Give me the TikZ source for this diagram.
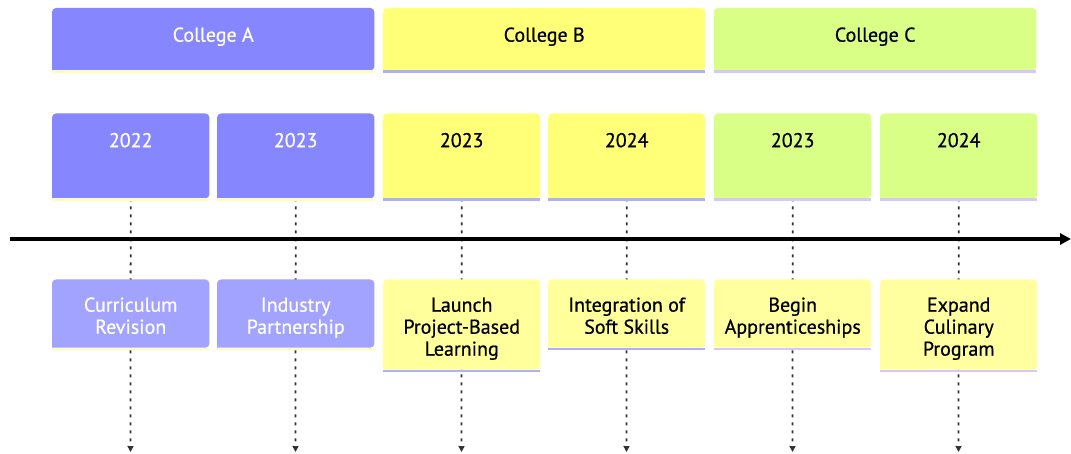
\documentclass[tikz,border=0pt]{standalone}
\usepackage{fontspec}
\setmainfont{PT Sans}[FakeBold=0.6]
\usetikzlibrary{arrows.meta,backgrounds}

\definecolor{fillA}{RGB}{134,134,255}
\definecolor{evA}{RGB}{162,162,255}
\definecolor{lineA}{RGB}{255,255,180}
\definecolor{fillB}{RGB}{255,255,120}
\definecolor{evB}{RGB}{255,255,155}
\definecolor{lineB}{RGB}{175,175,255}
\definecolor{fillC}{RGB}{217,255,134}
\definecolor{evC}{RGB}{255,255,160}
\definecolor{lineC}{RGB}{212,200,255}

% first baseline 32pt below the top edge, 13.75pt of room under the last line
\newcommand\topgap{\rule{0pt}{32pt}}
\newcommand\botgap{\rule[-13.75pt]{0pt}{13.75pt}}

\tikzset{
  box/.style={anchor=north west, inner sep=0pt, align=center,
    font=\fontsize{20}{22}\selectfont},
  head/.style={box, minimum width=322pt, text height=33.5pt, text depth=28.5pt},
  year/.style={box, minimum width=157pt, text height=33.5pt, text depth=51pt},
  event/.style={box, minimum width=157pt},
  axisline/.style={line width=3.5pt, -{Triangle[length=11pt,width=11pt]}},
  guide/.style={line width=1.8pt, black!80, dash pattern=on 3pt off 5pt,
    -{Triangle[length=6pt,width=6pt]}},
}

% filled card with rounded top corners and a thin coloured rule below
\newcommand\panel[3]{%
  \fill[#2] (#1.south west) [rounded corners=4pt] -- (#1.north west)
    -- (#1.north east) -- (#1.south east) [sharp corners] -- cycle;
  \fill[#3] (#1.south west) rectangle ([yshift=-2.5pt]#1.south east);
}

\begin{document}
\begin{tikzpicture}[x=1pt, y=-1pt]
\useasboundingbox (0,0) rectangle (1071,454);

% section headers
\node[head, text=white] (hA) at (52,8)  {College A};
\node[head]             (hB) at (383,8) {College B};
\node[head]             (hC) at (714,8) {College C};

% periods
\node[year, text=white] (yA1) at (52,113.5)  {2022};
\node[year, text=white] (yA2) at (217,113.5) {2023};
\node[year]             (yB1) at (383,113.5) {2023};
\node[year]             (yB2) at (548,113.5) {2024};
\node[year]             (yC1) at (714,113.5) {2023};
\node[year]             (yC2) at (880,113.5) {2024};

% events
\node[event, text=white] (eA1) at (52,279.5)  {\topgap Curriculum\\Revision\botgap};
\node[event, text=white] (eA2) at (217,279.5) {\topgap Industry\\Partnership\botgap};
\node[event]             (eB1) at (383,279.5) {\topgap Launch\\Project-Based\\Learning\botgap};
\node[event]             (eB2) at (548,279.5) {\topgap Integration of\\Soft Skills\botgap};
\node[event]             (eC1) at (714,279.5) {\topgap Begin\\Apprenticeships\botgap};
\node[event]             (eC2) at (880,279.5) {\topgap Expand\\Culinary\\Program\botgap};

% ends of the period guides
\coordinate (gA1) at (130.5,452);
\coordinate (gA2) at (295.5,452);
\coordinate (gB1) at (461.5,452);
\coordinate (gB2) at (626.5,452);
\coordinate (gC1) at (792.5,452);
\coordinate (gC2) at (958.5,452);

\begin{scope}[on background layer]
  \foreach \p in {A1,A2,B1,B2,C1,C2}
    \draw[guide] (y\p.south) -- (g\p);
  \panel{hA}{fillA}{lineA}
  \panel{hB}{fillB}{lineB}
  \panel{hC}{fillC}{lineC}
  \panel{yA1}{fillA}{lineA}
  \panel{yA2}{fillA}{lineA}
  \panel{yB1}{fillB}{lineB}
  \panel{yB2}{fillB}{lineB}
  \panel{yC1}{fillC}{lineC}
  \panel{yC2}{fillC}{lineC}
  \panel{eA1}{evA}{lineA}
  \panel{eA2}{evA}{lineA}
  \panel{eB1}{evB}{lineB}
  \panel{eB2}{evB}{lineB}
  \panel{eC1}{evC}{lineC}
  \panel{eC2}{evC}{lineC}
\end{scope}

% time axis
\coordinate (axS) at (10,239);
\coordinate (axE) at (1071,239);
\draw[axisline] (axS) -- (axE);
\end{tikzpicture}
\end{document}
